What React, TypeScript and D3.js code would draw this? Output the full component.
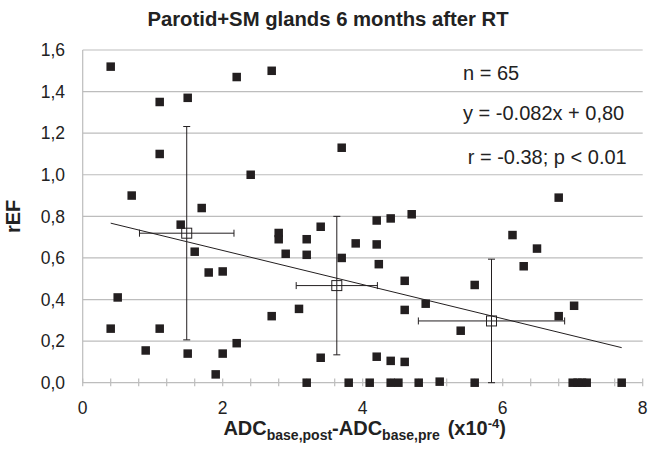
import React from "react";
import * as d3 from "d3";

const xValues = [
  0.4, 1.1, 1.5, 1.1, 0.7, 1.7, 2.7, 2.2, 3.7, 2.4,
  4.2, 4.4, 4.7, 6.8, 1.4, 1.6, 1.8, 2.0, 0.5, 0.4,
  1.1, 0.9, 1.5, 1.9, 2.0, 2.8, 2.8, 3.2, 3.4, 2.9,
  3.2, 3.7, 3.9, 4.2, 4.23, 4.6, 4.6, 3.09, 2.7, 2.2,
  3.4, 4.2, 4.4, 4.6, 3.2, 3.8, 4.1, 4.4, 4.51, 4.8,
  5.1, 5.6, 6.14, 6.49, 6.3, 5.6, 4.9, 7.02, 6.8, 5.4,
  7.0, 7.07, 7.13, 7.2, 7.7,
];
const yValues = [
  1.52, 1.35, 1.37, 1.1, 0.9, 0.84, 1.5, 1.47, 1.13, 1.0,
  0.78, 0.79, 0.81, 0.89, 0.76, 0.63, 0.53, 0.535, 0.41, 0.26,
  0.26, 0.155, 0.14, 0.04, 0.14, 0.72, 0.69, 0.69, 0.75, 0.62,
  0.615, 0.6, 0.67, 0.665, 0.57, 0.49, 0.35, 0.355, 0.32, 0.19,
  0.12, 0.125, 0.105, 0.1, 0, 0, 0, 0, 0, 0,
  0.005, 0, 0.71, 0.645, 0.56, 0.47, 0.38, 0.37, 0.32, 0.25,
  0, 0, 0, 0, 0,
];

const meanX = [1.486, 3.63, 5.84];
const meanY = [0.719, 0.467, 0.297];
const sdX = [0.675, 0.58, 1.045];
const sdY = [0.513, 0.333, 0.297];

const trendSlope = -0.082;
const trendIntercept = 0.8;
const trendRange = [0.4, 7.7];

const yTicks = [0, 0.2, 0.4, 0.6, 0.8, 1.0, 1.2, 1.4, 1.6];
const xLabelTicks = [0, 2, 4, 6, 8];
const xMinorTicks = d3.range(0, 21).map((i) => i * 0.4);

const annotations = ["n = 65", "y = -0.082x + 0,80", "r = -0.38; p < 0.01"];

const W = 648;
const H = 451;
const left = 82.7;
const right = 642.7;
const top = 50;
const bottom = 382.7;
const FONT = "'Liberation Sans', Arial, sans-serif";

export default function App() {
  const x = d3.scaleLinear().domain([0, 8]).range([left, right]);
  const y = d3.scaleLinear().domain([0, 1.6]).range([bottom, top]);
  const fmt = (v: number) => v.toFixed(1).replace(".", ",");
  const ink = "#231f20";
  const ms = 8.5;
  const cap = 3.5;
  const annX = [463, 463, 467.7];
  const annY = [79.5, 119.5, 163.5];

  return (
    <svg width={W} height={H} style={{ position: "absolute", left: 0, top: 0 }} fontFamily={FONT}>
      <rect width={W} height={H} fill="#fff" />
      {yTicks.map((t) => (
        <line key={"g" + t} x1={left} x2={right} y1={y(t)} y2={y(t)} stroke="#bdbdbd" strokeWidth={1.2} />
      ))}
      <line x1={left} x2={left} y1={top} y2={bottom} stroke="#bdbdbd" strokeWidth={1.2} />
      {xMinorTicks.map((t) => (
        <line key={"t" + t} x1={x(t)} x2={x(t)} y1={bottom - 4.3} y2={bottom + 3.5} stroke="#bdbdbd" strokeWidth={1.2} />
      ))}
      {yTicks.map((t) => (
        <text key={"yl" + t} x={65} y={y(t)} dy="0.36em" textAnchor="end" fontSize={17.5} fill="#222">
          {fmt(t)}
        </text>
      ))}
      {xLabelTicks.map((t) => (
        <text key={"xl" + t} x={x(t)} y={413.5} textAnchor="middle" fontSize={17.5} fill="#222">
          {t}
        </text>
      ))}
      <line
        x1={x(trendRange[0])}
        x2={x(trendRange[1])}
        y1={y(trendSlope * trendRange[0] + trendIntercept)}
        y2={y(trendSlope * trendRange[1] + trendIntercept)}
        stroke={ink}
        strokeWidth={1}
      />
      {xValues.map((xv, i) => (
        <rect key={"p" + i} x={x(xv) - ms / 2} y={y(yValues[i]) - ms / 2} width={ms} height={ms} fill={ink} />
      ))}
      {meanX.map((mx, i) => {
        const cx = x(mx);
        const cy = y(meanY[i]);
        const x0 = x(mx - sdX[i]);
        const x1 = x(mx + sdX[i]);
        const y0 = y(meanY[i] - sdY[i]);
        const y1 = y(meanY[i] + sdY[i]);
        return (
          <g key={"m" + i} stroke={ink} strokeWidth={1} fill="none">
            <line x1={x0} x2={x1} y1={cy} y2={cy} />
            <line x1={x0} x2={x0} y1={cy - cap} y2={cy + cap} />
            <line x1={x1} x2={x1} y1={cy - cap} y2={cy + cap} />
            <line x1={cx} x2={cx} y1={y0} y2={y1} />
            <line x1={cx - cap} x2={cx + cap} y1={y0} y2={y0} />
            <line x1={cx - cap} x2={cx + cap} y1={y1} y2={y1} />
            <rect x={cx - 5} y={cy - 5} width={10} height={10} fill="none" />
          </g>
        );
      })}
      {annotations.map((a, i) => (
        <text key={"a" + i} x={annX[i]} y={annY[i]} fontSize={20} fill="#222">
          {a}
        </text>
      ))}
      <text x={328} y={26} textAnchor="middle" fontSize={20.3} fontWeight="bold" fill="#222">
        Parotid+SM glands 6 months after RT
      </text>
      <text
        transform={`translate(${20},${(top + bottom) / 2}) rotate(-90)`}
        textAnchor="middle"
        fontSize={20}
        fontWeight="bold"
        fill="#222"
      >
        rEF
      </text>
      <text x={(left + right) / 2 + 2} y={434.5} textAnchor="middle" fontSize={20} fontWeight="bold" fill="#222">
        ADC
        <tspan fontSize={14} dy={5}>base,post</tspan>
        <tspan dy={-5}>-ADC</tspan>
        <tspan fontSize={14} dy={5}>base,pre</tspan>
        <tspan dy={-5} dx={8}>(x10</tspan>
        <tspan fontSize={13} dy={-7}>-4</tspan>
        <tspan dy={7}>)</tspan>
      </text>
    </svg>
  );
}
